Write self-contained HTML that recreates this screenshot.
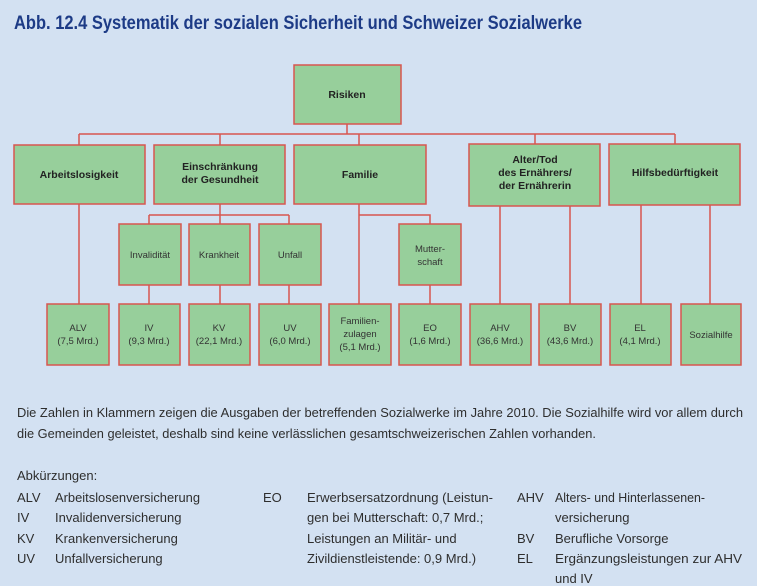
<!DOCTYPE html>
<html><head><meta charset="utf-8"><style>
html,body{margin:0;padding:0;background:#d3e1f2;}
svg{display:block;}
.b{fill:#97cf9b;stroke:#d8564f;stroke-width:1.5;}
.l{stroke:#d8564f;stroke-width:1.5;fill:none;}
.t2{font-family:"Liberation Sans Narrow","Liberation Sans",sans-serif;font-weight:bold;font-size:10.5px;fill:#222;text-anchor:middle;}
.t3{font-family:"Liberation Sans Narrow","Liberation Sans",sans-serif;font-size:9.5px;fill:#333;text-anchor:middle;}
.tx{font-family:"Liberation Sans Narrow","Liberation Sans",sans-serif;font-size:13px;fill:#2e2e2e;}
</style></head><body>
<svg width="757" height="586" viewBox="0 0 757 586" xmlns="http://www.w3.org/2000/svg">
<rect width="757" height="586" fill="#d3e1f2"/>
<text x="14" y="29" textLength="568" lengthAdjust="spacingAndGlyphs" style="font-family:'Liberation Sans Narrow','Liberation Sans',sans-serif;font-weight:bold;font-size:19px;fill:#1d3b86;">Abb. 12.4  Systematik der sozialen Sicherheit und Schweizer Sozialwerke</text>

<path class="l" d="M347 124V134M79 134H675M79 134V145M220 134V145M359 134V145M535 134V145M675 134V145"/>
<path class="l" d="M79 204V304M220 204V215M149 215H289M149 215V224M220 215V224M289 215V224"/>
<path class="l" d="M149 285V304M220 285V304M289 285V304"/>
<path class="l" d="M359 204V304M359 215H430V224M430 285V304"/>
<path class="l" d="M500 206V304M570 206V304M641 205V304M710 205V304"/>

<rect class="b" x="294" y="65" width="107" height="59"/>
<text class="t2" x="347" y="98">Risiken</text>

<rect class="b" x="14" y="145" width="131" height="59"/>
<text class="t2" x="79" y="178">Arbeitslosigkeit</text>
<rect class="b" x="154" y="145" width="131" height="59"/>
<text class="t2" x="220" y="170">Einschränkung</text>
<text class="t2" x="220" y="183">der Gesundheit</text>
<rect class="b" x="294" y="145" width="132" height="59"/>
<text class="t2" x="360" y="178">Familie</text>
<rect class="b" x="469" y="144" width="131" height="62"/>
<text class="t2" x="535" y="163">Alter/Tod</text>
<text class="t2" x="535" y="176">des Ernährers/</text>
<text class="t2" x="535" y="189">der Ernährerin</text>
<rect class="b" x="609" y="144" width="131" height="61"/>
<text class="t2" x="675" y="176">Hilfsbedürftigkeit</text>

<rect class="b" x="119" y="224" width="62" height="61"/>
<text class="t3" x="150" y="258">Invalidität</text>
<rect class="b" x="189" y="224" width="61" height="61"/>
<text class="t3" x="219" y="258">Krankheit</text>
<rect class="b" x="259" y="224" width="62" height="61"/>
<text class="t3" x="290" y="258">Unfall</text>
<rect class="b" x="399" y="224" width="62" height="61"/>
<text class="t3" x="430" y="252">Mutter-</text>
<text class="t3" x="430" y="265">schaft</text>

<rect class="b" x="47" y="304" width="62" height="61"/>
<text class="t3" x="78" y="331">ALV</text><text class="t3" x="78" y="344">(7,5 Mrd.)</text>
<rect class="b" x="119" y="304" width="61" height="61"/>
<text class="t3" x="149" y="331">IV</text><text class="t3" x="149" y="344">(9,3 Mrd.)</text>
<rect class="b" x="189" y="304" width="61" height="61"/>
<text class="t3" x="219" y="331">KV</text><text class="t3" x="219" y="344">(22,1 Mrd.)</text>
<rect class="b" x="259" y="304" width="62" height="61"/>
<text class="t3" x="290" y="331">UV</text><text class="t3" x="290" y="344">(6,0 Mrd.)</text>
<rect class="b" x="329" y="304" width="62" height="61"/>
<text class="t3" x="360" y="324">Familien-</text><text class="t3" x="360" y="337">zulagen</text><text class="t3" x="360" y="350">(5,1 Mrd.)</text>
<rect class="b" x="399" y="304" width="62" height="61"/>
<text class="t3" x="430" y="331">EO</text><text class="t3" x="430" y="344">(1,6 Mrd.)</text>
<rect class="b" x="470" y="304" width="61" height="61"/>
<text class="t3" x="500" y="331">AHV</text><text class="t3" x="500" y="344">(36,6 Mrd.)</text>
<rect class="b" x="539" y="304" width="62" height="61"/>
<text class="t3" x="570" y="331">BV</text><text class="t3" x="570" y="344">(43,6 Mrd.)</text>
<rect class="b" x="610" y="304" width="61" height="61"/>
<text class="t3" x="640" y="331">EL</text><text class="t3" x="640" y="344">(4,1 Mrd.)</text>
<rect class="b" x="681" y="304" width="60" height="61"/>
<text class="t3" x="711" y="338">Sozialhilfe</text>

<text class="tx" x="17" y="417" textLength="726" lengthAdjust="spacingAndGlyphs">Die Zahlen in Klammern zeigen die Ausgaben der betreffenden Sozialwerke im Jahre 2010. Die Sozialhilfe wird vor allem durch</text>
<text class="tx" x="17" y="438" textLength="579" lengthAdjust="spacingAndGlyphs">die Gemeinden geleistet, deshalb sind keine verlässlichen gesamtschweizerischen Zahlen vorhanden.</text>
<text class="tx" x="17" y="480">Abkürzungen:</text>
<text class="tx" x="17" y="502">ALV</text><text class="tx" x="55" y="502" textLength="145" lengthAdjust="spacingAndGlyphs">Arbeitslosenversicherung</text>
<text class="tx" x="17" y="522">IV</text><text class="tx" x="55" y="522">Invalidenversicherung</text>
<text class="tx" x="17" y="543">KV</text><text class="tx" x="55" y="543">Krankenversicherung</text>
<text class="tx" x="17" y="563">UV</text><text class="tx" x="55" y="563">Unfallversicherung</text>
<text class="tx" x="263" y="502">EO</text><text class="tx" x="307" y="502" textLength="186" lengthAdjust="spacingAndGlyphs">Erwerbsersatzordnung (Leistun-</text>
<text class="tx" x="307" y="522">gen bei Mutterschaft: 0,7 Mrd.;</text>
<text class="tx" x="307" y="543">Leistungen an Militär- und</text>
<text class="tx" x="307" y="563">Zivildienstleistende: 0,9 Mrd.)</text>
<text class="tx" x="517" y="502">AHV</text><text class="tx" x="555" y="502" textLength="150" lengthAdjust="spacingAndGlyphs">Alters- und Hinterlassenen-</text>
<text class="tx" x="555" y="522">versicherung</text>
<text class="tx" x="517" y="543">BV</text><text class="tx" x="555" y="543">Berufliche Vorsorge</text>
<text class="tx" x="517" y="563">EL</text><text class="tx" x="555" y="563" textLength="187" lengthAdjust="spacingAndGlyphs">Ergänzungsleistungen zur AHV</text>
<text class="tx" x="555" y="583">und IV</text>
</svg>
</body></html>
